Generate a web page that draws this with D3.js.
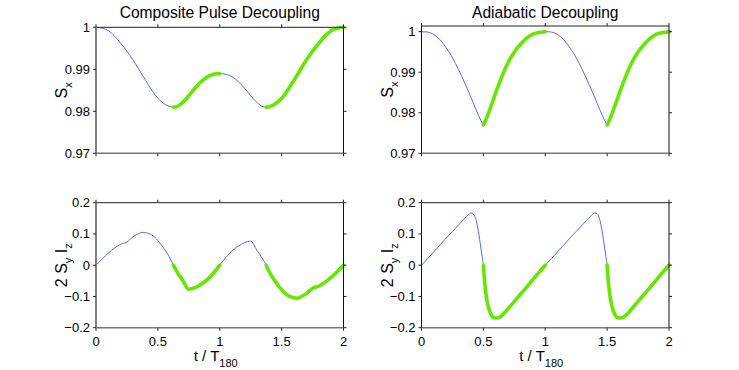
<!DOCTYPE html>
<html><head><meta charset="utf-8">
<script src="https://cdn.jsdelivr.net/npm/d3@7/dist/d3.min.js"></script>
<style>body{margin:0;background:#fff;} svg{display:block;font-family:"Liberation Sans",Arial,sans-serif;}</style>
</head><body><svg id="c" width="739" height="370"></svg>
<script>
// ---------- data ----------
const titles = ["Composite Pulse Decoupling", "Adiabatic Decoupling"];
const xTicks = [0, 0.5, 1, 1.5, 2];
const xTickLabels = ["0", "0.5", "1", "1.5", "2"];
const sxTicks = [0.97, 0.98, 0.99, 1];
const sxTickLabels = ["0.97", "0.98", "0.99", "1"];
const syTicks = [-0.2, -0.1, 0, 0.1, 0.2];
const syTickLabels = ["\u22120.2", "\u22120.1", "0", "0.1", "0.2"];

const tCPD = [0,0.05,0.1,0.15,0.2,0.25,0.3,0.35,0.375,0.4,0.45,0.5,0.55,0.6,0.625,0.65,0.7,0.75,0.8,0.85,0.9,0.95,1.0,
  1.05,1.1,1.15,1.2,1.25,1.3,1.35,1.375,1.4,1.45,1.5,1.55,1.6,1.625,1.65,1.7,1.75,1.8,1.85,1.9,1.95,2.0];
const sxCPD = [1.0000,0.9998,0.9992,0.9979,0.9962,0.9943,0.9922,0.9898,0.9886,0.9874,0.9851,0.9831,0.9818,0.9811,0.9810,0.9811,0.9821,0.9837,0.9855,0.9871,0.9882,0.9888,0.9890,
  0.9888,0.9882,0.9871,0.9855,0.9837,0.9821,0.9811,0.9810,0.9811,0.9818,0.9831,0.9851,0.9874,0.9886,0.9898,0.9922,0.9943,0.9962,0.9979,0.9992,0.9998,1.0000];
const syizCPD = [0,0.020,0.039,0.055,0.067,0.074,0.091,0.102,0.105,0.104,0.097,0.079,0.053,0.021,0,-0.018,-0.048,-0.077,-0.072,-0.061,-0.046,-0.025,0,
  0.025,0.046,0.061,0.072,0.077,0.048,0.018,0,-0.021,-0.053,-0.079,-0.097,-0.104,-0.106,-0.102,-0.091,-0.074,-0.067,-0.055,-0.039,-0.020,0];
const greenCPD = [[0.625, 1], [1.375, 2]];

const tAD = [0,0.05,0.1,0.15,0.2,0.25,0.3,0.35,0.375,0.4,0.42,0.44,0.46,0.48,0.49,0.5,0.51,0.52,0.54,0.56,0.58,0.6,0.62,0.64,0.7,0.75,0.8,0.85,0.9,0.95,1.0,
  1.05,1.1,1.15,1.2,1.25,1.3,1.35,1.375,1.4,1.42,1.44,1.46,1.48,1.49,1.5,1.51,1.52,1.54,1.56,1.58,1.6,1.62,1.64,1.7,1.75,1.8,1.85,1.9,1.95,2.0];
const sxAD = [1.0000,0.9999,0.9993,0.9980,0.9960,0.9936,0.9906,0.9873,0.9856,0.9838,0.9823,0.9808,0.9794,0.9781,0.9775,0.9770,0.9776,0.9783,0.9798,0.9815,0.9832,0.9849,0.9866,0.9882,0.9924,0.9950,0.9969,0.9984,0.9994,0.9998,1.0000,
  0.9999,0.9993,0.9980,0.9960,0.9936,0.9906,0.9873,0.9856,0.9838,0.9823,0.9808,0.9794,0.9781,0.9775,0.9770,0.9776,0.9783,0.9798,0.9815,0.9832,0.9849,0.9866,0.9882,0.9924,0.9950,0.9969,0.9984,0.9994,0.9998,1.0000];
const syizAD = [0,0.021,0.043,0.065,0.087,0.108,0.129,0.150,0.160,0.167,0.163,0.146,0.108,0.055,0.028,0,-0.052,-0.090,-0.133,-0.156,-0.167,-0.169,-0.168,-0.164,-0.139,-0.116,-0.093,-0.070,-0.046,-0.023,0,
  0.021,0.043,0.065,0.087,0.108,0.129,0.150,0.160,0.167,0.165,0.146,0.108,0.055,0.028,0,-0.052,-0.090,-0.133,-0.156,-0.167,-0.169,-0.168,-0.164,-0.139,-0.116,-0.093,-0.070,-0.046,-0.023,0];
const greenAD = [[0.5, 1], [1.5, 2]];

// ---------- drawing ----------
const svg = d3.select("#c");
const BLUE = "#4a6cff", GREEN = "#66e600";

function panel(o) {
  const x = d3.scaleLinear().domain([0, 2]).range([o.x0, o.x1]);
  const y = d3.scaleLinear().domain(o.domain).range([o.yb, o.yt]);
  const g = svg.append("g");
  const pts = o.t.map((t, i) => [t, o.v[i]]);
  const line = d3.line().x(d => x(d[0])).y(d => y(d[1])).curve(d3.curveMonotoneX);
  g.append("path").attr("d", line(pts)).attr("fill", "none").attr("stroke", BLUE).attr("stroke-width", 1);
  o.green.forEach(r => {
    const seg = pts.filter(p => p[0] >= r[0] - 1e-9 && p[0] <= r[1] + 1e-9);
    g.append("path").attr("d", line(seg)).attr("fill", "none").attr("stroke", GREEN)
      .attr("stroke-width", 3.6).attr("stroke-linecap", "round").attr("stroke-linejoin", "round");
  });
  // frame
  const X0 = o.x0, X1 = o.x1, YT = o.yt, YB = o.yb;
  g.append("line").attr("x1", X0).attr("x2", X1).attr("y1", YT).attr("y2", YT).attr("stroke", "#222").attr("stroke-width", 1);
  g.append("line").attr("x1", X1).attr("x2", X1).attr("y1", YT).attr("y2", YB).attr("stroke", "#111").attr("stroke-width", 1);
  g.append("line").attr("x1", X0).attr("x2", X1).attr("y1", YB).attr("y2", YB).attr("stroke", "#777").attr("stroke-width", 1.5);
  g.append("line").attr("x1", X0).attr("x2", X0).attr("y1", YT).attr("y2", YB).attr("stroke", o.leftCol).attr("stroke-width", o.leftW);
  // x ticks
  xTicks.forEach((t, i) => {
    g.append("line").attr("x1", x(t)).attr("x2", x(t)).attr("y1", YB).attr("y2", YB + 3).attr("stroke", "#222");
    g.append("line").attr("x1", x(t)).attr("x2", x(t)).attr("y1", YT).attr("y2", YT - 3).attr("stroke", "#222");
    if (o.xlabels) g.append("text").attr("x", x(t)).attr("y", YB + 18).attr("text-anchor", "middle")
      .attr("font-size", 13).text(xTickLabels[i]);
  });
  o.yTicks.forEach((v, i) => {
    g.append("line").attr("x1", X0 - 3).attr("x2", X0).attr("y1", y(v)).attr("y2", y(v)).attr("stroke", "#222");
    g.append("line").attr("x1", X1).attr("x2", X1 + 3).attr("y1", y(v)).attr("y2", y(v)).attr("stroke", "#222");
    g.append("text").attr("x", X0 - 6).attr("y", y(v) + 4.5).attr("text-anchor", "end")
      .attr("font-size", 13).text(o.yTickLabels[i]);
  });
  // y label
  const cy = (YT + YB) / 2;
  const yl = g.append("text").attr("transform", `translate(${X0 - 29},${cy}) rotate(-90)`)
    .attr("text-anchor", "middle").attr("font-size", 16);
  o.ylab.forEach(p => {
    const ts = yl.append("tspan").text(p[0]);
    if (p[1] === "sub") ts.attr("font-size", 11).attr("dy", 5);
    else if (p[1] === "up") ts.attr("dy", -5);
  });
  if (o.title) g.append("text").attr("x", (X0 + X1) / 2).attr("y", 18).attr("text-anchor", "middle")
    .attr("font-size", 15.6).text(o.title);
  if (o.xlabels) {
    const xl = g.append("text").attr("x", (X0 + X1) / 2 - 4).attr("y", 360.5).attr("text-anchor", "middle").attr("font-size", 15);
    xl.append("tspan").text("t / T");
    xl.append("tspan").attr("font-size", 11).attr("dy", 6).text("180");
  }
}

const sxLab = [["S", ""], ["x", "sub"]];
const syLab = [["2 S", ""], ["y", "sub"], [" I", "up"], ["z", "sub"]];

panel({x0: 96, x1: 343.5, yt: 27.3, yb: 153.3, domain: [0.97, 1], t: tCPD, v: sxCPD, green: greenCPD,
  yTicks: sxTicks, yTickLabels: sxTickLabels, ylab: sxLab, title: titles[0], xlabels: false, leftCol: "#808080", leftW: 2});
panel({x0: 421.5, x1: 669, yt: 26, yb: 153.3, domain: [0.97, 1.0014], t: tAD, v: sxAD, green: greenAD,
  yTicks: sxTicks, yTickLabels: sxTickLabels, ylab: sxLab, title: titles[1], xlabels: false, leftCol: "#111", leftW: 1});
panel({x0: 96, x1: 343.5, yt: 202.7, yb: 327.7, domain: [-0.2, 0.2], t: tCPD, v: syizCPD, green: greenCPD,
  yTicks: syTicks, yTickLabels: syTickLabels, ylab: syLab, title: null, xlabels: true, leftCol: "#808080", leftW: 2});
panel({x0: 421.5, x1: 669, yt: 202.7, yb: 327.7, domain: [-0.2, 0.2], t: tAD, v: syizAD, green: greenAD,
  yTicks: syTicks, yTickLabels: syTickLabels, ylab: syLab, title: null, xlabels: true, leftCol: "#111", leftW: 1});
</script></body></html>
